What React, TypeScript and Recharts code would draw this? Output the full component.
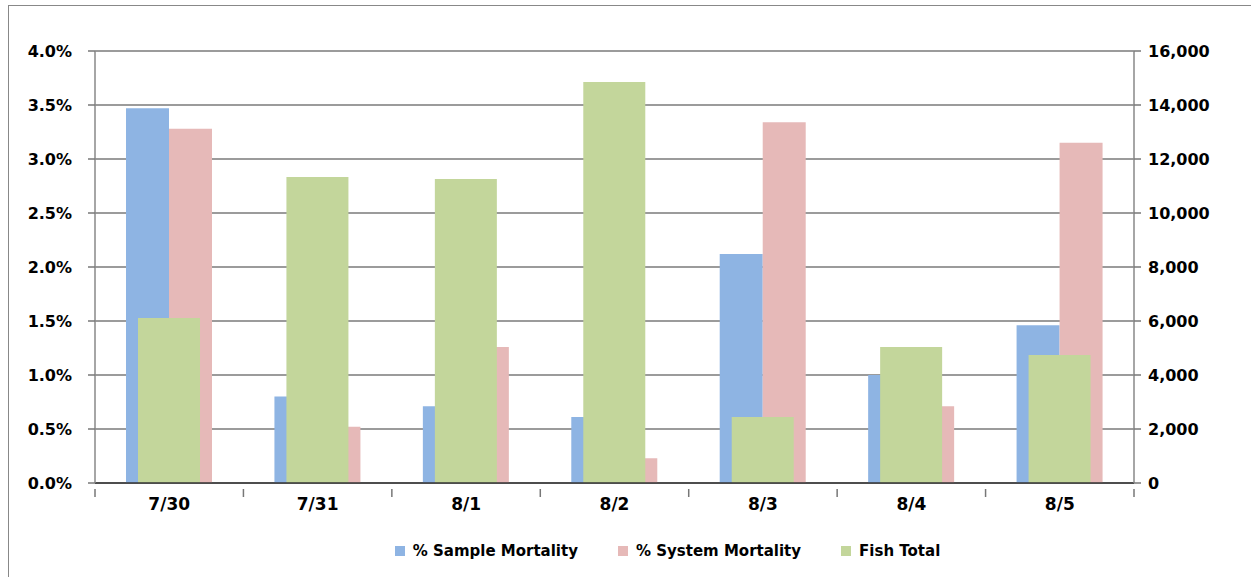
import React from "react";
import { Bar, BarChart, CartesianGrid, Legend, XAxis, YAxis } from "recharts";

const dates = ["7/30", "7/31", "8/1", "8/2", "8/3", "8/4", "8/5"];
const sampleMortality = [3.47, 0.8, 0.71, 0.61, 2.12, 1.0, 1.46];
const systemMortality = [3.28, 0.52, 1.26, 0.23, 3.34, 0.71, 3.15];
const fishTotal = [6110, 11330, 11260, 14850, 2440, 5040, 4740];

const percentTicks = [0, 0.5, 1, 1.5, 2, 2.5, 3, 3.5, 4];
const fishTicks = [0, 2000, 4000, 6000, 8000, 10000, 12000, 14000, 16000];

const data = dates.map((date, i) => ({
  date,
  sample: sampleMortality[i],
  system: systemMortality[i],
  fish: fishTotal[i],
}));

const WIDTH = 1251;
const HEIGHT = 577;
const margin = { top: 51, right: 57, left: 35, bottom: 36 };
const axisWidth = 60;
const plotWidth = WIDTH - margin.left - margin.right - axisWidth * 2;
const band = plotWidth / dates.length;
const comic = "'Comic Sans MS', 'DejaVu Sans'";

const tickFont = { fill: "#000", fontSize: 16, fontWeight: 700, fontFamily: "DejaVu Sans" };

function DateTick(props: any) {
  const { x, y, payload, index } = props;
  const half = band / 2;
  return (
    <g>
      <line x1={x - half} x2={x - half} y1={y - 2} y2={y + 6} stroke="#777" strokeWidth={1.5} />
      {index === dates.length - 1 && (
        <line x1={x + half} x2={x + half} y1={y - 2} y2={y + 6} stroke="#777" strokeWidth={1.5} />
      )}
      <text x={x} y={y + 19} textAnchor="middle" fill="#000" fontSize={17} fontWeight={700} fontFamily={comic}>
        {payload.value}
      </text>
    </g>
  );
}

function LegendContent(props: any) {
  const { payload } = props;
  return (
    <div style={{ display: "flex", justifyContent: "center", gap: 40, fontFamily: comic, fontWeight: 700, fontSize: 15 }}>
      {payload.map((entry: any) => (
        <div key={entry.value} style={{ display: "flex", alignItems: "center" }}>
          <span style={{ width: 10, height: 10, background: entry.color, marginRight: 8, display: "inline-block" }} />
          <span style={{ color: "#000" }}>{entry.value}</span>
        </div>
      ))}
    </div>
  );
}

export default function App() {
  return (
    <div style={{ position: "absolute", left: 0, top: 0, width: WIDTH, height: HEIGHT, background: "#fff" }}>
      <div
        style={{
          position: "absolute",
          left: 8,
          top: 5,
          width: WIDTH,
          height: HEIGHT,
          border: "1.5px solid #888",
          boxSizing: "border-box",
        }}
      />
      <div style={{ position: "absolute", left: 0, top: 0 }}>
        <BarChart width={WIDTH} height={HEIGHT} data={data} margin={margin} barGap={0}>
          <CartesianGrid yAxisId="pct" horizontal vertical={false} stroke="#7a7a7a" strokeWidth={1.5} />
          <XAxis
            xAxisId="main"
            dataKey="date"
            tickLine={false}
            axisLine={{ stroke: "#333", strokeWidth: 1.5 }}
            tick={<DateTick />}
            height={40}
            interval={0}
          />
          <XAxis xAxisId="fish" dataKey="date" hide height={0} />
          <YAxis
            yAxisId="pct"
            orientation="left"
            domain={[0, 4]}
            ticks={percentTicks}
            tickFormatter={(v: number) => `${v.toFixed(1)}%`}
            tick={tickFont}
            tickSize={7}
            tickMargin={16}
            tickLine={{ stroke: "#777", strokeWidth: 1.5 }}
            axisLine={{ stroke: "#888", strokeWidth: 1.5 }}
            width={axisWidth}
            interval={0}
          />
          <YAxis
            yAxisId="fish"
            orientation="right"
            domain={[0, 16000]}
            ticks={fishTicks}
            tickFormatter={(v: number) => v.toLocaleString("en-US")}
            tick={tickFont}
            tickSize={7}
            tickMargin={7}
            tickLine={{ stroke: "#777", strokeWidth: 1.5 }}
            axisLine={{ stroke: "#888", strokeWidth: 1.5 }}
            width={axisWidth}
            interval={0}
          />
          <Bar
            xAxisId="main"
            yAxisId="pct"
            dataKey="sample"
            name="% Sample Mortality"
            fill="#8EB4E3"
            barSize={43}
            isAnimationActive={false}
          />
          <Bar
            xAxisId="main"
            yAxisId="pct"
            dataKey="system"
            name="% System Mortality"
            fill="#E6B9B8"
            barSize={43}
            isAnimationActive={false}
          />
          <Bar
            xAxisId="fish"
            yAxisId="fish"
            dataKey="fish"
            name="Fish Total"
            fill="#C3D69B"
            barSize={62}
            isAnimationActive={false}
          />
          <Legend content={<LegendContent />} wrapperStyle={{ top: 542, left: 42, width: WIDTH }} />
        </BarChart>
      </div>
    </div>
  );
}
